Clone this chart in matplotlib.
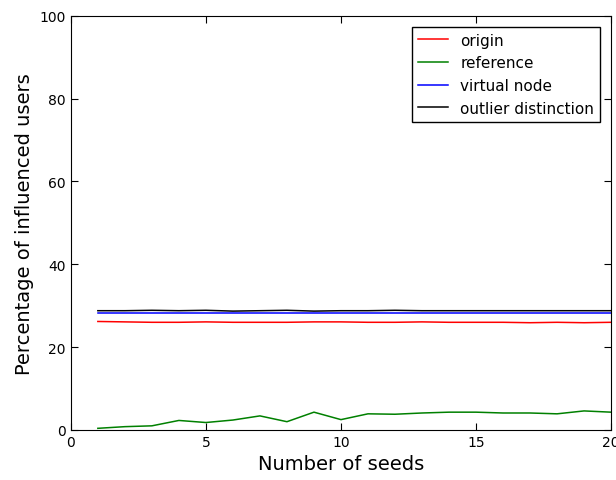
import matplotlib
matplotlib.use("Agg")
import matplotlib.pyplot as plt

seeds = list(range(1, 21))
origin = [26.2, 26.1, 26.0, 26.0, 26.1, 26.0, 26.0, 26.0, 26.1, 26.1,
          26.0, 26.0, 26.1, 26.0, 26.0, 26.0, 25.9, 26.0, 25.9, 26.0]
reference = [0.4, 0.8, 1.0, 2.3, 1.8, 2.4, 3.4, 2.0, 4.3, 2.5,
             3.9, 3.8, 4.1, 4.3, 4.3, 4.1, 4.1, 3.9, 4.6, 4.3]
virtual_node = [28.3, 28.3, 28.3, 28.3, 28.3, 28.3, 28.3, 28.3, 28.3, 28.3,
                28.3, 28.3, 28.3, 28.3, 28.3, 28.3, 28.3, 28.3, 28.3, 28.3]
outlier = [28.8, 28.8, 28.9, 28.8, 28.9, 28.7, 28.8, 28.9, 28.7, 28.8,
           28.8, 28.9, 28.8, 28.8, 28.8, 28.8, 28.8, 28.8, 28.8, 28.8]

fig = plt.figure(figsize=(6.16, 4.81), dpi=100)
ax = fig.add_axes([0.115, 0.104, 0.877, 0.861])

ax.plot(seeds, origin, color="red", lw=1.1, label="origin")
ax.plot(seeds, reference, color="green", lw=1.1, label="reference")
ax.plot(seeds, virtual_node, color="blue", lw=1.1, label="virtual node")
ax.plot(seeds, outlier, color="black", lw=1.1, label="outlier distinction")

ax.set_xlim(0, 20)
ax.set_ylim(0, 100)
ax.set_xticks([0, 5, 10, 15, 20])
ax.set_yticks([0, 20, 40, 60, 80, 100])
ax.tick_params(direction="in", top=True, right=True, labelsize=10, length=5)
ax.set_xlabel("Number of seeds", fontsize=14)
ax.set_ylabel("Percentage of influenced users", fontsize=14)

leg = ax.legend(loc="upper right", fontsize=11, fancybox=False,
                framealpha=1, edgecolor="black", handlelength=2.0,
                borderaxespad=0.7)
leg.get_frame().set_linewidth(1)

fig.savefig("out.png", dpi=100)
